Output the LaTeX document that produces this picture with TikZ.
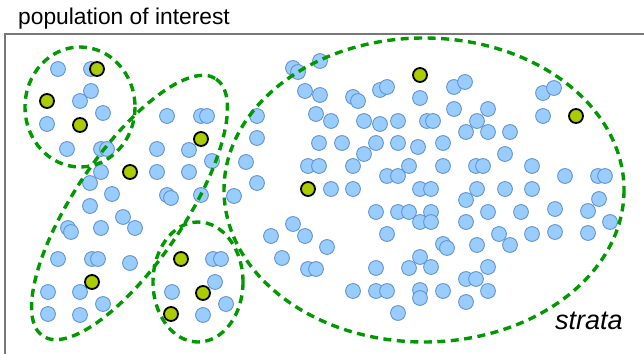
\documentclass[tikz,border=0pt]{standalone}
\usepackage{fontspec}
\setmainfont{Liberation Sans}
\definecolor{dotblue}{RGB}{153,204,255}
\definecolor{dotblueline}{RGB}{100,150,205}
\definecolor{dotgreen}{RGB}{170,204,0}
\definecolor{strgreen}{RGB}{0,153,0}
\definecolor{framegray}{RGB}{120,120,120}
\tikzset{
  bluedot/.style={fill=dotblue, draw=dotblueline, line width=0.9pt},
  greendot/.style={fill=dotgreen, draw=black, line width=1.8pt},
  stratum/.style={draw=strgreen, line width=3.4pt, dash pattern=on 8pt off 5.5pt},
  framebox/.style={draw=framegray, line width=1.3pt},
}
\begin{document}
\begin{tikzpicture}[x=1pt,y=-1pt]
\useasboundingbox (0,0) rectangle (644,353);
\fill[white] (0,0) rectangle (644,353);
\clip (0,0) rectangle (644,353);
\draw[framebox] (5,360) -- (5,34) -- (650,34);
\node[anchor=base west, inner sep=0pt, font=\fontsize{22.8}{26}\selectfont] (title) at (18,25) {population of interest};
% blue dots
\foreach \x/\y in {58/69,91/69,91/91,80/101,103/113,47/124,67/149,101/149,107/149,
 167/116,201/116,207/116,157/149,189/150,212/161,101/172,157/172,189/172,90/183,112/194,167/195,171/198,201/195,90/206,123/217,68/228,71/232,101/228,135/228,58/259,92/259,98/259,130/263,48/292,80/292,103/304,48/314,80/315,
 213/259,221/259,215/282,172/292,226/304,203/315,
 257/116,257/138,246/162,257/183,234/196,
 293/68,298/72,320/61,305/91,320/95,353/97,358/101,380/90,387/87,420/98,316/114,331/121,364/121,380/124,398/121,427/121,433/121,319/143,342/143,376/143,398/143,418/147,364/154,308/166,319/166,353/166,409/166,387/176,398/176,331/189,353/189,420/189,431/189,376/212,398/212,409/212,431/212,420/222,431/222,293/224,271/236,305/236,387/234,327/247,282/258,420/257,308/269,316/269,376/268,409/268,431/267,353/291,376/291,387/291,420/290,420/298,398/313,
 454/87,465/82,543/93,554/88,454/109,488/109,543/116,477/121,466/132,488/132,510/132,443/143,505/154,443/166,476/166,483/166,532/166,565/176,598/176,605/176,477/189,505/189,532/189,466/200,599/199,488/212,521/212,555/209,588/211,466/222,610/222,499/234,510/245,532/234,555/232,588/233,443/244,447/248,477/245,488/267,466/279,476/279,443/291,488/291,466/302}
  {\path[bluedot] (\x,\y) circle [radius=7.4];}
% green dots
\foreach \x/\y in {97/69,47/101,80/125,201/139,130/172,92/282,181/259,203/293,171/314,308/189,420/75,576/116}
  {\path[greendot] (\x,\y) circle [radius=7];}
% strata
\draw[stratum] (80,107) ellipse [x radius=55, y radius=60];
\draw[stratum, rotate around={56:(129.5,207.5)}] (129.5,207.5) ellipse [x radius=155, y radius=55];
\draw[stratum] (198,282) ellipse [x radius=45, y radius=60];
\draw[stratum] (424,190) ellipse [x radius=200, y radius=152];
\node[anchor=base west, inner sep=0pt, font=\itshape\fontsize{27}{30}\selectfont] (strata) at (555,329) {strata};
\end{tikzpicture}
\end{document}
